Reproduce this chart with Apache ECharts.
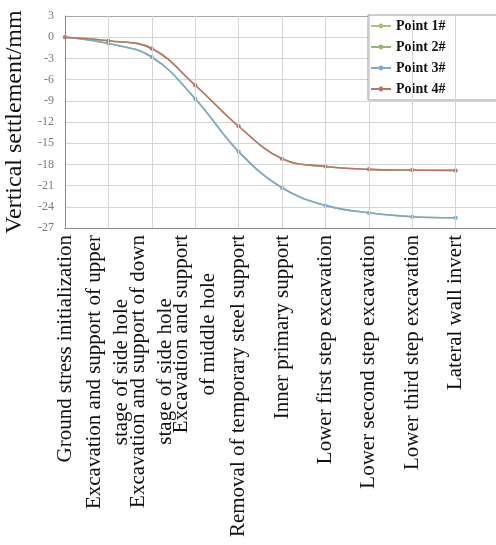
<!DOCTYPE html>
<html>
<head>
<meta charset="utf-8">
<script src="https://cdn.jsdelivr.net/npm/echarts@6/dist/echarts.min.js"></script>
<style>
html,body{margin:0;padding:0;background:#fff;}
#chart{width:496px;height:545px;}
</style>
</head>
<body>
<div id="chart"></div>
<script>
var categories = [
  'Ground stress initialization',
  'Excavation and support of upper\nstage of side hole',
  'Excavation and support of down\nstage of side hole',
  'Excavation and support\nof middle hole',
  'Removal of temporary steel support',
  'Inner primary support',
  'Lower first step excavation',
  'Lower second step excavation',
  'Lower third step excavation',
  'Lateral wall invert'
];
var seriesNames = ['Point 1#', 'Point 2#', 'Point 3#', 'Point 4#'];
var point1 = [0, -0.9, -2.8, -8.7, -16.2, -21.3, -23.8, -24.85, -25.4, -25.55];
var point2 = [0, -0.5, -1.6, -6.8, -12.6, -17.2, -18.3, -18.7, -18.8, -18.85];
var point3 = [0, -0.9, -2.8, -8.7, -16.2, -21.3, -23.8, -24.85, -25.4, -25.55];
var point4 = [0, -0.5, -1.6, -6.8, -12.6, -17.2, -18.3, -18.7, -18.8, -18.85];
var yTicks = {min: -27, max: 3, interval: 3};

var colors = ['#a9c07a', '#93b86e', '#7ea8cb', '#bd7468'];
var chart = echarts.init(document.getElementById('chart'));
var serif = '"Liberation Serif", "Times New Roman", serif';

function mk(name, data, color, extra) {
  var s = {
    name: name, type: 'line',
    data: data.map(function (v, i) { return [i, v]; }),
    smooth: 0.4,
    symbol: 'circle', symbolSize: 4,
    lineStyle: {color: color, width: 1.6},
    itemStyle: {color: color},
    emphasis: {disabled: true}
  };
  if (extra) for (var key in extra) s[key] = extra[key];
  return s;
}

var gridMarks = {
  markLine: {
    silent: true, animation: false, symbol: ['none', 'none'],
    label: {show: false},
    lineStyle: {color: '#d6d6d6', type: 'solid', width: 1},
    emphasis: {disabled: true},
    data: categories.map(function (c, i) { return {xAxis: i}; }).slice(1)
  }
};

var ySplitColors = ['#8c8c8c'];
for (var k = yTicks.min + yTicks.interval; k < yTicks.max; k += yTicks.interval) ySplitColors.push('#d6d6d6');
ySplitColors.push('#a8a8a8');

chart.setOption({
  animation: false,
  grid: {left: 65, right: -3, top: 16, bottom: 317, outerBoundsMode: 'none'},
  legend: {
    orient: 'vertical', left: 368, top: 15,
    padding: [3, 70, 3, 2], itemGap: 5, itemWidth: 20, itemHeight: 6,
    backgroundColor: '#fff', borderColor: '#9a9a9a', borderWidth: 1,
    textStyle: {fontFamily: serif, fontWeight: 'bold', fontSize: 14, color: '#111', lineHeight: 16},
    data: seriesNames
  },
  xAxis: {
    type: 'value', min: 0, max: categories.length, interval: 1,
    axisLine: {show: true, onZero: false, lineStyle: {color: '#8c8c8c'}},
    axisTick: {show: false},
    splitLine: {show: true, lineStyle: {color: '#d6d6d6'}},
    axisLabel: {
      rotate: 90, margin: 7, showMinLabel: true, showMaxLabel: true, hideOverlap: false,
      fontFamily: serif, fontSize: 21, color: '#111',
      formatter: function (v) {
        var s = categories[Math.round(v)];
        if (!s) return '';
        return s.split('\n').map(function (t) { return '{a|' + t + '}'; }).join('\n');
      },
      rich: {a: {align: 'center', fontFamily: serif, fontSize: 21, color: '#111', lineHeight: 27}}
    }
  },
  yAxis: {
    type: 'value', min: yTicks.min, max: yTicks.max, interval: yTicks.interval,
    name: 'Vertical settlement/mm', nameLocation: 'middle', nameGap: 33,
    nameTextStyle: {fontFamily: serif, fontSize: 24, color: '#111'},
    axisLine: {show: true, onZero: false, lineStyle: {color: '#8c8c8c'}},
    axisTick: {show: false},
    splitLine: {lineStyle: {color: ySplitColors}},
    axisLabel: {fontFamily: serif, fontSize: 12, color: '#7a7a7a', margin: 11}
  },
  series: [
    mk(seriesNames[0], point1, colors[0], gridMarks),
    mk(seriesNames[1], point2, colors[1]),
    mk(seriesNames[2], point3, colors[2]),
    mk(seriesNames[3], point4, colors[3])
  ]
});
</script>
</body>
</html>
